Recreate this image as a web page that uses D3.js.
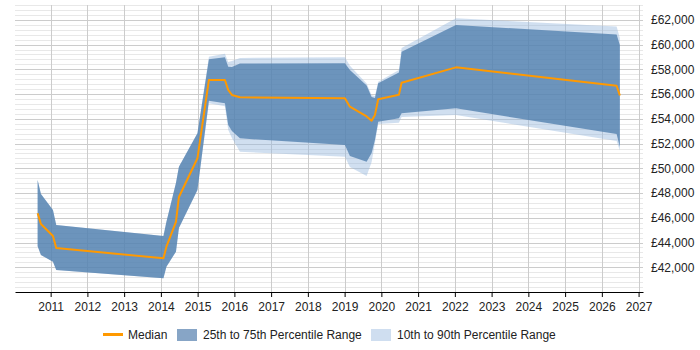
<!DOCTYPE html>
<html>
<head>
<meta charset="utf-8">
<script src="https://cdn.jsdelivr.net/npm/d3@7"></script>
<style>
  body { margin: 0; background: #fff; }
  svg { font-family: "Liberation Sans", Arial, sans-serif; }
</style>
</head>
<body>
<div id="chart"></div>
<script>
// sample dates as decimal years
const dates = [2010.646, 2010.736, 2011.063, 2011.152, 2014.069, 2014.151, 2014.41, 2014.491, 2014.995,
  2015.307, 2015.743, 2015.833, 2015.933, 2016.151, 2019.008, 2019.144, 2019.599, 2019.735, 2019.825,
  2019.914, 2020.478, 2020.551, 2022.029, 2026.402, 2026.49];
const median = [46360, 45500, 44530, 43560, 42720, 43660, 45660, 47680, 50810,
  57140, 57140, 56330, 55930, 55740, 55660, 54980, 54190, 53850, 54310,
  55580, 55950, 56920, 58160, 56670, 55880];
const p25 = [43700, 42990, 42450, 41780, 41110, 42050, 43260, 45170, 48250,
  55460, 55250, 53500, 53020, 52420, 51880, 50990, 50530, 51240, 52290,
  53770, 54040, 54450, 54850, 52770, 51720];
const p75 = [49050, 47920, 46630, 45420, 44530, 45680, 48810, 50130, 52830,
  58810, 58970, 58210, 58190, 58470, 58490, 57950, 56690, 55760, 55680,
  56870, 57740, 59430, 61580, 60820, 59970];
const p10 = [43700, 42990, 42450, 41780, 41110, 42050, 43260, 45170, 48250,
  55250, 55010, 53100, 52450, 51340, 50940, 50100, 49380, 50510, 52050,
  53580, 53690, 54150, 54310, 52210, 51440];
const p90 = [49050, 47920, 46630, 45420, 44530, 45680, 48810, 50130, 52830,
  59020, 59260, 58590, 58670, 58920, 58970, 58290, 56850, 55900, 55840,
  57000, 57950, 59720, 62130, 61460, 60530];
const years = d3.range(2011, 2028);
const yTicks = d3.range(42000, 62001, 2000);
const legendLabels = ['Median', '25th to 75th Percentile Range', '10th to 90th Percentile Range'];

const width = 700, height = 350;
const plot = { left: 15, right: 643, top: 5, bottom: 292 };

const svg = d3.select('#chart').append('svg')
  .attr('width', width)
  .attr('height', height);

const x = d3.scaleLinear().domain([2010.03, 2027.12]).range([plot.left, plot.right]);
const y = d3.scaleLinear().domain([40000, 63200]).range([plot.bottom, plot.top]);

const rows = dates.map((d, i) => ({ t: d, m: median[i], p10: p10[i], p25: p25[i], p75: p75[i], p90: p90[i] }));

// grid
const grid = svg.append('g');
grid.selectAll('.hminor')
  .data(d3.range(40400, 63201, 400))
  .enter().append('line')
  .attr('x1', plot.left).attr('x2', plot.right)
  .attr('y1', d => Math.round(y(d)) + 0.5).attr('y2', d => Math.round(y(d)) + 0.5)
  .attr('stroke', d => d % 2000 === 0 ? '#cccccc' : '#e8e8e8')
  .attr('stroke-width', 1);
grid.selectAll('.vgrid')
  .data(years)
  .enter().append('line')
  .attr('x1', d => Math.round(x(d)) + 0.5).attr('x2', d => Math.round(x(d)) + 0.5)
  .attr('y1', plot.top).attr('y2', plot.bottom)
  .attr('stroke', '#cccccc');

// bands
svg.append('path')
  .datum(rows)
  .attr('fill', 'rgb(150,185,222)')
  .attr('fill-opacity', 0.45)
  .attr('d', d3.area().x(d => x(d.t)).y0(d => y(d.p10)).y1(d => y(d.p90)));
svg.append('path')
  .datum(rows)
  .attr('fill', 'rgb(75,123,171)')
  .attr('fill-opacity', 0.75)
  .attr('d', d3.area().x(d => x(d.t)).y0(d => y(d.p25)).y1(d => y(d.p75)));

// median
svg.append('path')
  .datum(rows)
  .attr('fill', 'none')
  .attr('stroke', '#ff9900')
  .attr('stroke-width', 2)
  .attr('stroke-linejoin', 'round')
  .attr('d', d3.line().x(d => x(d.t)).y(d => y(d.m)));

// x axis
const xAxis = svg.append('g')
  .attr('transform', `translate(0,${plot.bottom})`)
  .call(d3.axisBottom(x).tickValues(years).tickFormat(d3.format('d')).tickSize(5).tickSizeOuter(0));
xAxis.select('.domain').attr('stroke', '#000');
xAxis.selectAll('.tick line').attr('stroke', '#000');
xAxis.selectAll('text').attr('font-size', 12).attr('fill', '#222').attr('dy', '0.9em');

// y labels on the right
svg.append('g')
  .attr('transform', `translate(${plot.right},0)`)
  .call(d3.axisRight(y).tickValues(yTicks).tickFormat(d => '£' + d3.format(',')(d)).tickSize(0).tickPadding(8))
  .call(g => g.select('.domain').remove())
  .selectAll('text').attr('font-size', 12).attr('fill', '#222');

// legend
const legend = svg.append('g').attr('font-size', 12).attr('fill', '#222');
legend.append('line')
  .attr('x1', 103).attr('x2', 123).attr('y1', 334.5).attr('y2', 334.5)
  .attr('stroke', '#ff9900').attr('stroke-width', 3);
legend.append('text').attr('x', 128).attr('y', 339).text(legendLabels[0]);
legend.append('rect').attr('x', 177).attr('y', 329).attr('width', 20).attr('height', 12)
  .attr('fill', '#87a5c6');
legend.append('text').attr('x', 203).attr('y', 339).text(legendLabels[1]);
legend.append('rect').attr('x', 371).attr('y', 329).attr('width', 20).attr('height', 12)
  .attr('fill', '#cfdef0');
legend.append('text').attr('x', 397).attr('y', 339).text(legendLabels[2]);
</script>
</body>
</html>
